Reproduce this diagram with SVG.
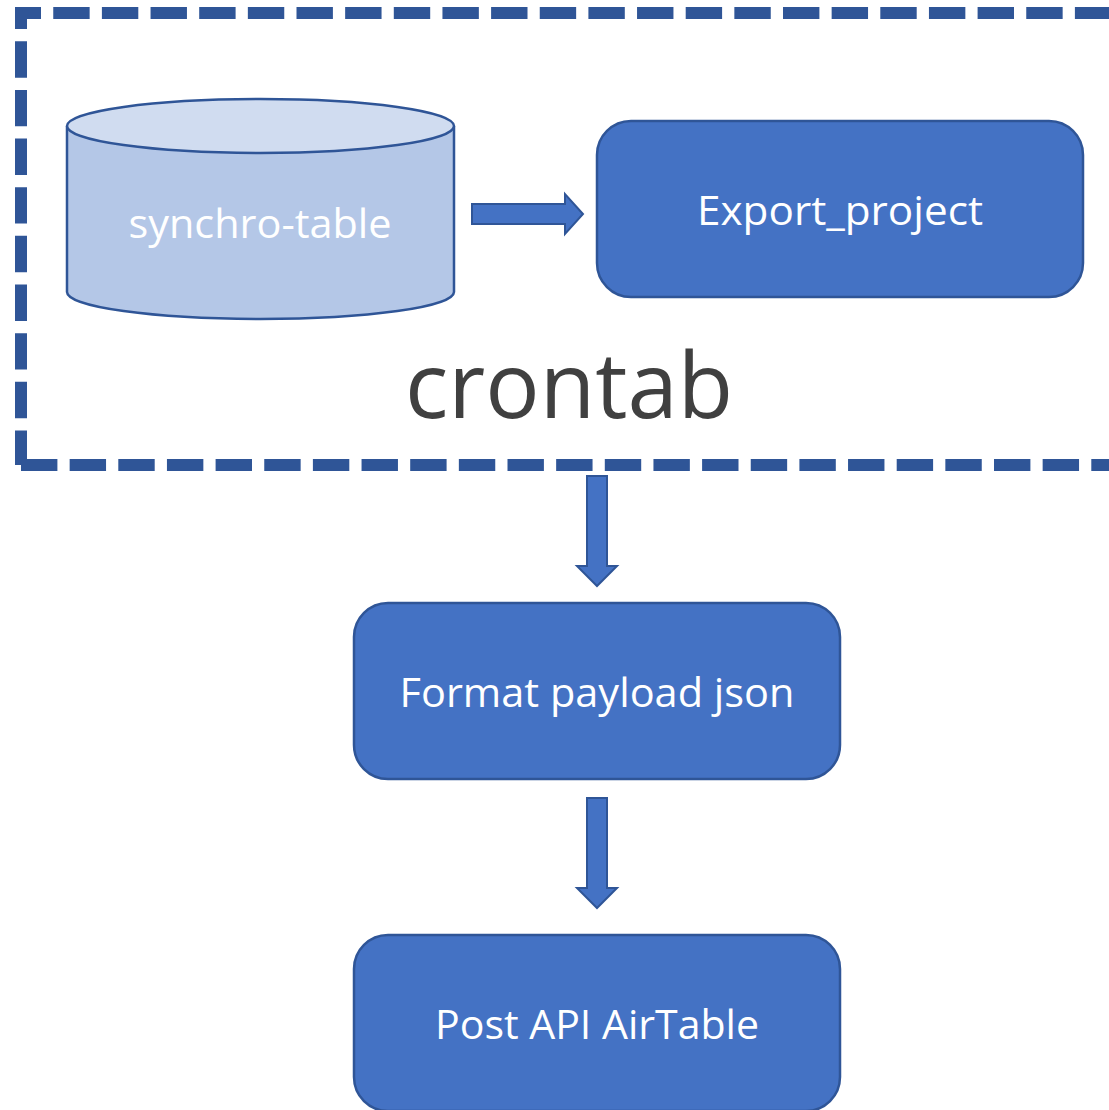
<svg xmlns="http://www.w3.org/2000/svg" width="1109" height="1110" viewBox="0 0 1109 1110">
  <style>
    .box { fill: #4472c4; stroke: #2f5597; stroke-width: 2.5; }
    .arrow { fill: #4472c4; stroke: #2f5597; stroke-width: 2; }
    .label { font-family: "Open Sans", "Liberation Sans", sans-serif; fill: #ffffff; text-anchor: middle; font-size: 40px; }
    .frame { fill: none; stroke: #2f5597; stroke-width: 12; stroke-dasharray: 36.4 12.25; }
  </style>
  <rect width="1109" height="1110" fill="#ffffff"/>

  <!-- crontab frame (dashed, open to the right) -->
  <g id="crontab">
    <path class="frame" d="M 15 13 H 1130" stroke-dashoffset="10.4"/>
    <path class="frame" d="M 21 7 V 465" stroke-dashoffset="14.4"/>
    <path class="frame" d="M 21 465 H 1130"/>
    <text x="569" y="418" font-family="Open Sans, Liberation Sans, sans-serif" font-size="92" fill="#404040" text-anchor="middle" textLength="328" lengthAdjust="spacingAndGlyphs">crontab</text>
  </g>

  <!-- database cylinder -->
  <g id="synchro-table">
    <path d="M 67 126 L 67 292 A 193.5 27 0 0 0 454 292 L 454 126" fill="#b4c7e7" stroke="#2f5597" stroke-width="2.5"/>
    <ellipse cx="260.5" cy="126" rx="193.5" ry="27" fill="#d0dcf0" stroke="#2f5597" stroke-width="2.5"/>
    <text class="label" x="260" y="238" textLength="263" lengthAdjust="spacingAndGlyphs">synchro-table</text>
  </g>

  <g id="export_project">
    <rect class="box" x="597" y="121" width="486" height="176" rx="34"/>
    <text class="label" x="840" y="225" textLength="286" lengthAdjust="spacingAndGlyphs">Export_project</text>
  </g>

  <g id="format_payload">
    <rect class="box" x="354" y="603" width="486" height="176" rx="34"/>
    <text class="label" x="597" y="707" textLength="395" lengthAdjust="spacingAndGlyphs">Format payload json</text>
  </g>

  <g id="post_api">
    <rect class="box" x="354" y="935" width="486" height="176" rx="34"/>
    <text class="label" x="597" y="1039" textLength="324" lengthAdjust="spacingAndGlyphs">Post API AirTable</text>
  </g>

  <!-- connectors -->
  <g id="connectors">
    <path class="arrow" d="M 472 204 L 565 204 L 565 194 L 583 214 L 565 234 L 565 224 L 472 224 Z"/>
    <path class="arrow" d="M 587 476 L 607 476 L 607 566 L 617 566 L 597 586 L 577 566 L 587 566 Z"/>
    <path class="arrow" d="M 587 798 L 607 798 L 607 888 L 617 888 L 597 908 L 577 888 L 587 888 Z"/>
  </g>
</svg>
